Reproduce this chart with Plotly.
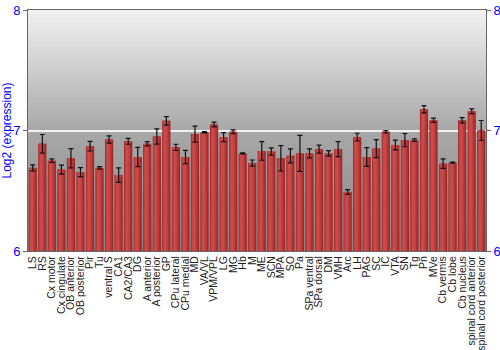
import plotly.graph_objects as go

regions = ["LS", "RS", "Cx motor", "Cx cingulate", "OB anterior", "OB posterior", "Pir", "Tu",
           "ventral S", "CA1", "CA2/CA3", "DG", "A anterior", "A posterior", "GP",
           "CPu lateral", "CPu medial", "MD", "VA/VL", "VPM/VPL", "LG", "MG", "Hb", "M",
           "ME", "SCN", "MPA", "SO", "Pa", "SPa ventral", "SPa dorsal", "DM",
           "VMH", "Arc", "LH", "PAG", "SC", "IC", "VTA", "SN", "Tg", "Pn", "MVe",
           "Cb vermis", "Cb lobe", "Cb nucleus", "spinal cord anterior", "spinal cord posterior"]

expression = [6.69, 6.89, 6.75, 6.675, 6.77, 6.655, 6.87, 6.69,
              6.925, 6.63, 6.91, 6.78, 6.89, 6.95, 7.08,
              6.86, 6.78, 6.97, 6.985, 7.05, 6.945, 6.99, 6.81, 6.73,
              6.83, 6.825, 6.77, 6.79, 6.81, 6.81, 6.845, 6.81,
              6.846, 6.49, 6.945, 6.78, 6.85, 6.99, 6.88, 6.92, 6.92, 7.177, 7.085,
              6.725, 6.733, 7.085, 7.16, 7.0]

error = [0.025, 0.077, 0.015, 0.037, 0.08, 0.037, 0.04, 0.01,
         0.03, 0.06, 0.024, 0.08, 0.018, 0.063, 0.035,
         0.026, 0.055, 0.066, 0.005, 0.02, 0.038, 0.016, 0.005, 0.025,
         0.077, 0.03, 0.105, 0.058, 0.15, 0.037, 0.033, 0.023,
         0.062, 0.02, 0.032, 0.078, 0.075, 0.01, 0.04, 0.055, 0.01, 0.03, 0.017,
         0.04, 0.004, 0.022, 0.02, 0.083]

y_ticks = [6, 7, 8]
y_range = [6, 8]

BASE = 6
heights = [v - BASE for v in expression]

fig = go.Figure()

# Layered bars to approximate the horizontal red gradient
layers = [
    (0.86, 0.0, "#982929"),
    (0.70, -0.04, "#b03434"),
    (0.50, -0.08, "#c03e3e"),
    (0.30, -0.12, "#ca4949"),
]
for w, off, col in layers:
    fig.add_trace(go.Bar(
        x=regions, y=heights, base=BASE, width=w, offset=-0.43 + (0.86 - w) / 2 + off,
        marker=dict(color=col, line=dict(width=0)),
        hoverinfo="skip", showlegend=False,
    ))

# Error bars
fig.add_trace(go.Scatter(
    x=regions, y=expression, mode="markers",
    marker=dict(size=1, color="rgba(0,0,0,0)"),
    error_y=dict(type="data", array=error, visible=True, color="#111111",
                 thickness=1.2, width=2.5),
    showlegend=False, hoverinfo="skip",
))

# invisible trace for right axis
fig.add_trace(go.Scatter(x=[regions[0]], y=[6], yaxis="y2", mode="markers",
                         marker=dict(opacity=0), showlegend=False, hoverinfo="skip"))

# Gradient background
n = 60
def grey(f):
    # f: 0 top -> 1 bottom
    if f < 0.5:
        v = 242 - (242 - 168) * (f / 0.5)
    else:
        v = 168 - (168 - 136) * ((f - 0.5) / 0.5)
    v = int(round(v))
    return f"rgb({v},{v},{v})"

shapes = []
for i in range(n):
    f0 = i / n
    f1 = (i + 1) / n
    shapes.append(dict(type="rect", xref="paper", yref="paper", x0=0, x1=1,
                       y0=max(0, 1 - f1 - 0.012), y1=1 - f0, fillcolor=grey((f0 + f1) / 2),
                       line=dict(width=0), layer="below"))

fig.update_layout(
    width=500, height=350,
    margin=dict(l=28, r=14, t=10, b=99, autoexpand=False),
    paper_bgcolor="white", plot_bgcolor="rgba(0,0,0,0)",
    barmode="overlay", bargap=0.14,
    font=dict(family="Liberation Sans, Arial, sans-serif", color="#222222"),
    shapes=shapes,
    xaxis=dict(type="category", tickangle=-90, tickfont=dict(size=10.5, color="#222222"),
               tickmode="array", tickvals=regions, ticktext=regions, automargin=False,
               showgrid=False, showline=True, linecolor="#666666", mirror=True,
               ticks="", range=[-0.5, len(regions) - 0.5]),
    yaxis=dict(range=y_range, tickvals=y_ticks, ticktext=[str(t) for t in y_ticks],
               tickfont=dict(size=13, color="#0000ff"), automargin=False,
               title=dict(text="Log2 (expression)", font=dict(size=12, color="#0000ff"), standoff=2),
               showgrid=True, gridcolor="rgba(255,255,255,0.85)", gridwidth=2,
               showline=True, linecolor="#666666", mirror=True,
               ticks="outside", ticklen=4, tickcolor="#666666", zeroline=False),
    yaxis2=dict(range=y_range, tickvals=y_ticks, overlaying="y", side="right",
                tickfont=dict(size=13, color="#0000ff"), showgrid=False, automargin=False,
                ticks="outside", ticklen=4, tickcolor="#666666", showline=False,
                zeroline=False),
)

fig.write_html("out.html")
